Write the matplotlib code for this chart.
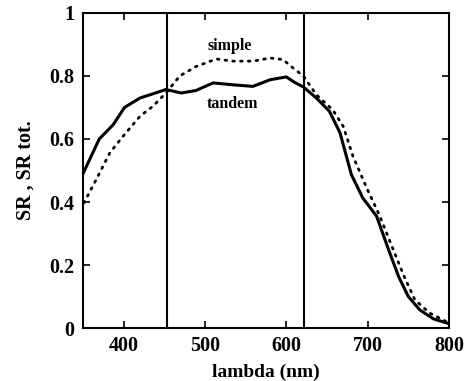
import matplotlib
matplotlib.use("Agg")
import matplotlib.pyplot as plt
import numpy as np

tandem_x = [350, 370, 387, 401, 420, 432, 452, 471, 489, 510, 534, 559, 580, 600, 610, 621, 637, 653, 666, 680, 694, 711, 725, 738, 750, 764, 781, 800]
tandem_y = [0.49, 0.60, 0.645, 0.70, 0.73, 0.74, 0.757, 0.746, 0.754, 0.778, 0.772, 0.767, 0.788, 0.797, 0.78, 0.765, 0.73, 0.688, 0.62, 0.487, 0.413, 0.355, 0.254, 0.164, 0.10, 0.058, 0.029, 0.014]

simple_x = [351, 366, 383, 399, 420, 436, 452, 469, 489, 514, 534, 559, 580, 596, 606, 621, 637, 657, 670, 682, 699, 715, 729, 744, 758, 776, 800]
simple_y = [0.397, 0.47, 0.556, 0.608, 0.672, 0.704, 0.746, 0.80, 0.83, 0.854, 0.847, 0.847, 0.857, 0.852, 0.83, 0.80, 0.74, 0.693, 0.64, 0.545, 0.444, 0.355, 0.265, 0.169, 0.09, 0.048, 0.016]

vlines_x = [453, 622]
xticks = [400, 500, 600, 700, 800]
yticks = [0, 0.2, 0.4, 0.6, 0.8, 1]
ytick_labels = ["0", "0.2", "0.4", "0.6", "0.8", "1"]

plt.rcParams['font.family'] = ['Liberation Serif', 'DejaVu Serif']
plt.rcParams['font.weight'] = 'bold'

fig = plt.figure(figsize=(4.65, 3.81), dpi=100)
ax = fig.add_axes([0.1785, 0.139, 0.787, 0.827])

ax.plot(tandem_x, tandem_y, color='black', lw=2.2, solid_joinstyle='round')
ax.plot(simple_x, simple_y, color='black', lw=2.0, linestyle=(0, (0.6, 2.2)), dash_capstyle='round')
for v in vlines_x:
    ax.axvline(v, color='black', lw=1.5)

ax.text(530, 0.895, "simple", ha='center', va='center', fontsize=11.5, fontweight='bold')
ax.text(534, 0.712, "tandem", ha='center', va='center', fontsize=11.5, fontweight='bold')

ax.set_xlim(350, 800)
ax.set_ylim(0, 1)
ax.set_xticks(xticks)
ax.set_yticks(yticks)
ax.set_yticklabels(ytick_labels)
ax.tick_params(direction='in', top=True, right=True, length=5, width=1.2, labelsize=14.5, pad=6)
for lab in ax.get_xticklabels() + ax.get_yticklabels():
    lab.set_fontweight('bold')
for s in ax.spines.values():
    s.set_linewidth(1.5)

ax.set_xlabel("lambda (nm)", fontsize=14, fontweight='bold', labelpad=5)
ax.set_ylabel("SR , SR tot.", fontsize=14.5, fontweight='bold', labelpad=10)

fig.savefig("out.png", dpi=100)
